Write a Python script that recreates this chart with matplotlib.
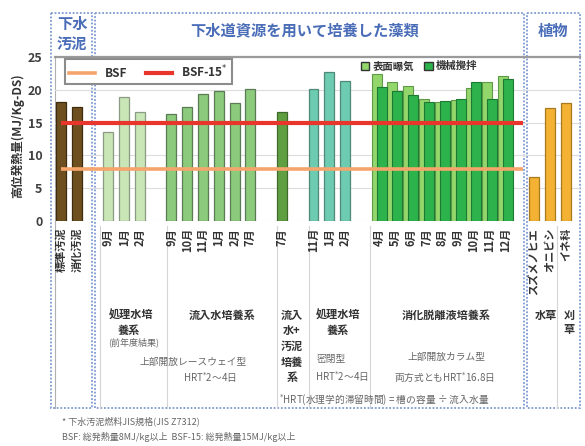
import numpy as np
import matplotlib.pyplot as plt
from matplotlib.lines import Line2D
from matplotlib.patches import Patch, Rectangle

plt.rcParams['font.family'] = ['Noto Sans CJK JP', 'DejaVu Sans']

# data
sludge_labels = ["標準汚泥", "消化汚泥"]
sludge_vals = [18.1, 17.4]
prev_labels = ["9月", "1月", "2月"]
prev_vals = [13.6, 18.9, 16.6]
inflow_labels = ["9月", "10月", "11月", "1月", "2月", "7月"]
inflow_vals = [16.3, 17.4, 19.4, 19.8, 18.0, 20.1]
mixed_labels = ["7月"]
mixed_vals = [16.6]
treated_labels = ["11月", "1月", "2月"]
treated_vals = [20.1, 22.7, 21.3]
digest_labels = ["4月", "5月", "6月", "7月", "8月", "9月", "10月", "11月", "12月"]
digest_surface = [22.4, 21.2, 20.6, 18.6, 18.1, 18.4, 20.3, 21.2, 22.1]
digest_mech = [20.4, 19.8, 19.2, 18.1, 18.3, 18.6, 21.2, 18.6, 21.6]
plant_labels = ["スズメノヒエ", "オニビシ", "イネ科"]
plant_vals = [6.7, 17.2, 18.0]
bsf = 8
bsf15 = 15

W, H = 585, 446
fig = plt.figure(figsize=(W / 100, H / 100), dpi=100)

# overlay in pixel coords for frames and annotations
ov = fig.add_axes([0, 0, 1, 1], zorder=0)
ov.set_xlim(0, W)
ov.set_ylim(H, 0)
ov.axis('off')

# main plot: px 55..580 wide, value 0 at y=221, 25 at y=57
ax = fig.add_axes([55 / W, (H - 221) / H, 525 / W, 164 / H], zorder=1)
ax.patch.set_alpha(0)

bw = 0.63
starts = [0, 3, 7, 14, 16, 20, 30]
tick_pos, tick_lab = [], []

simple = [
    (sludge_vals, sludge_labels, '#6e5020', '#3f2c0e'),
    (prev_vals, prev_labels, '#c8e6b6', '#8a9a84'),
    (inflow_vals, inflow_labels, '#8ccb7c', '#5c7a55'),
    (mixed_vals, mixed_labels, '#5f9f42', '#3f6a2c'),
    (treated_vals, treated_labels, '#6ccbb0', '#4f8a78'),
]
for (vals, labs, col, ec), s in zip(simple, starts[:5]):
    x = s + np.arange(len(vals))
    ax.bar(x, vals, bw, color=col, edgecolor=ec, linewidth=0.9, zorder=2)
    tick_pos += list(x)
    tick_lab += labs

x = starts[5] + np.arange(len(digest_surface))
ax.bar(x, digest_surface, bw, color='#92d66c', edgecolor='#5f9a48', linewidth=0.8, zorder=2)
ax.bar(x + 0.32, digest_mech, bw, color='#2db34c', edgecolor='#1d7a33', linewidth=0.8, zorder=2)
tick_pos += list(x + 0.16)
tick_lab += digest_labels

x = starts[6] + np.arange(len(plant_vals))
ax.bar(x, plant_vals, bw, color='#f4b234', edgecolor='#a87a20', linewidth=0.9, zorder=2)
tick_pos += list(x)
tick_lab += plant_labels

ax.hlines(bsf, 0, 29.3, color='#f5a56c', lw=2.6, zorder=3)
ax.hlines(bsf15, 0, 29.3, color='#e8362c', lw=3, zorder=3)

ax.set_xlim(-0.38, 32.89)
ax.set_ylim(0, 25)
ax.set_yticks(range(0, 26, 5))
ax.yaxis.grid(True, color='#dcdcdc', lw=0.8)
ax.set_axisbelow(True)
for sp in ['left', 'right', 'bottom']:
    ax.spines[sp].set_visible(False)
ax.spines['top'].set_color('#9a9a9a')
ax.spines['top'].set_linewidth(1.6)
ax.set_xticks(tick_pos)
ax.set_xticklabels(tick_lab, rotation=90, fontsize=8, fontweight='bold', color='#333333')
ax.tick_params(axis='x', length=0, pad=5)
ax.tick_params(axis='y', length=0, pad=9, labelsize=9, labelcolor='#404040')
for t in ax.get_yticklabels():
    t.set_fontweight('bold')
ax.set_ylabel('高位発熱量(MJ/Kg-DS)', fontsize=8.5, fontweight='bold', color='#333333')
ax.yaxis.set_label_coords(-0.058, 0.52)

leg1 = ax.legend(handles=[Line2D([], [], color='#f5a56c', lw=2.6),
                          Line2D([], [], color='#e8362c', lw=3)],
                 labels=['BSF', 'BSF-15$^{*}$'], ncol=2, loc='upper left',
                 bbox_to_anchor=(0.019, 0.985), borderaxespad=0, fancybox=False,
                 edgecolor='#8c8c8c', framealpha=1, fontsize=8.5, handlelength=2.2,
                 columnspacing=1.6, borderpad=0.35)
leg1.get_frame().set_linewidth(1.5)
for t in leg1.get_texts():
    t.set_fontweight('bold')
    t.set_color('#333333')
ax.add_artist(leg1)
leg2 = ax.legend(handles=[Patch(facecolor='#92d66c', edgecolor='#333333'),
                          Patch(facecolor='#2db34c', edgecolor='#333333')],
                 labels=['表面曝気', '機械攪拌'], ncol=2, loc='upper left',
                 bbox_to_anchor=(0.575, 1.0), borderaxespad=0, frameon=False,
                 fontsize=7.5, handlelength=0.8, handleheight=0.8,
                 columnspacing=1.0, handletextpad=0.3)
for t in leg2.get_texts():
    t.set_fontweight('bold')
    t.set_color('#333333')

# dotted blue section boxes
blue = '#7d9bd0'
for x0, x1 in [(51, 92), (95, 524), (527, 580)]:
    ov.add_patch(Rectangle((x0, 13), x1 - x0, 395, fill=False, edgecolor=blue,
                           lw=1.3, linestyle=(0, (1, 1))))
ov.plot([55, 55], [57, 408], color='#b0b0b0', lw=0.8)

# section headers
hc = '#4a6db8'
ov.text(72, 24, '下水', ha='center', va='center', fontsize=11, color=hc, fontweight='bold')
ov.text(72, 44, '汚泥', ha='center', va='center', fontsize=11, color=hc, fontweight='bold')
ov.text(305, 30, '下水道資源を用いて培養した藻類', ha='center', va='center', fontsize=11,
        color=hc, fontweight='bold')
ov.text(553, 31, '植物', ha='center', va='center', fontsize=11, color=hc, fontweight='bold')

# separators below the axis
for sx in [100, 167, 277, 309, 370, 557]:
    ov.plot([sx, sx], [226, 408], color='#d5d5d5', lw=0.8)

gc = '#333333'
sc = '#666666'
def lab(x, y, s, size=8, color=gc, bold=True):
    ov.text(x, y, s, ha='center', va='center', fontsize=size, color=color,
            fontweight='bold' if bold else 'normal')

lab(131, 315, '処理水培')
lab(129, 330, '養系')
lab(134, 342, '(前年度結果)', 6.5, sc, False)
lab(193, 362, '上部開放レースウェイ型', 7, sc, False)
lab(210, 378, 'HRT$^{*}$2～4日', 7, sc, False)
lab(222, 315, '流入水培養系')
for yy, s in zip([315, 330, 346, 362, 378], ['流入', '水+', '汚泥', '培養', '系']):
    lab(292, yy, s)
lab(338, 315, '処理水培')
lab(338, 330, '養系')
lab(331, 359, '密閉型', 7, sc, False)
lab(342, 377, 'HRT$^{*}$2～4日', 7, sc, False)
lab(446, 315, '消化脱離液培養系')
lab(446, 357, '上部開放カラム型', 7, sc, False)
lab(444, 377, '両方式ともHRT$^{*}$16.8日', 7, sc, False)
lab(384, 400, '$^{*}$HRT(水理学的滞留時間) = 槽の容量 ÷ 流入水量', 7, sc, False)
lab(546, 315, '水草')
lab(569, 315, '刈')
lab(569, 330, '草')

ov.text(62, 421, '* 下水汚泥燃料JIS規格(JIS Z7312)', ha='left', va='center',
        fontsize=6.5, color=sc)
ov.text(62, 437, 'BSF: 総発熱量8MJ/kg以上  BSF-15: 総発熱量15MJ/kg以上', ha='left',
        va='center', fontsize=6.5, color=sc)

fig.savefig('out.png', dpi=100)
